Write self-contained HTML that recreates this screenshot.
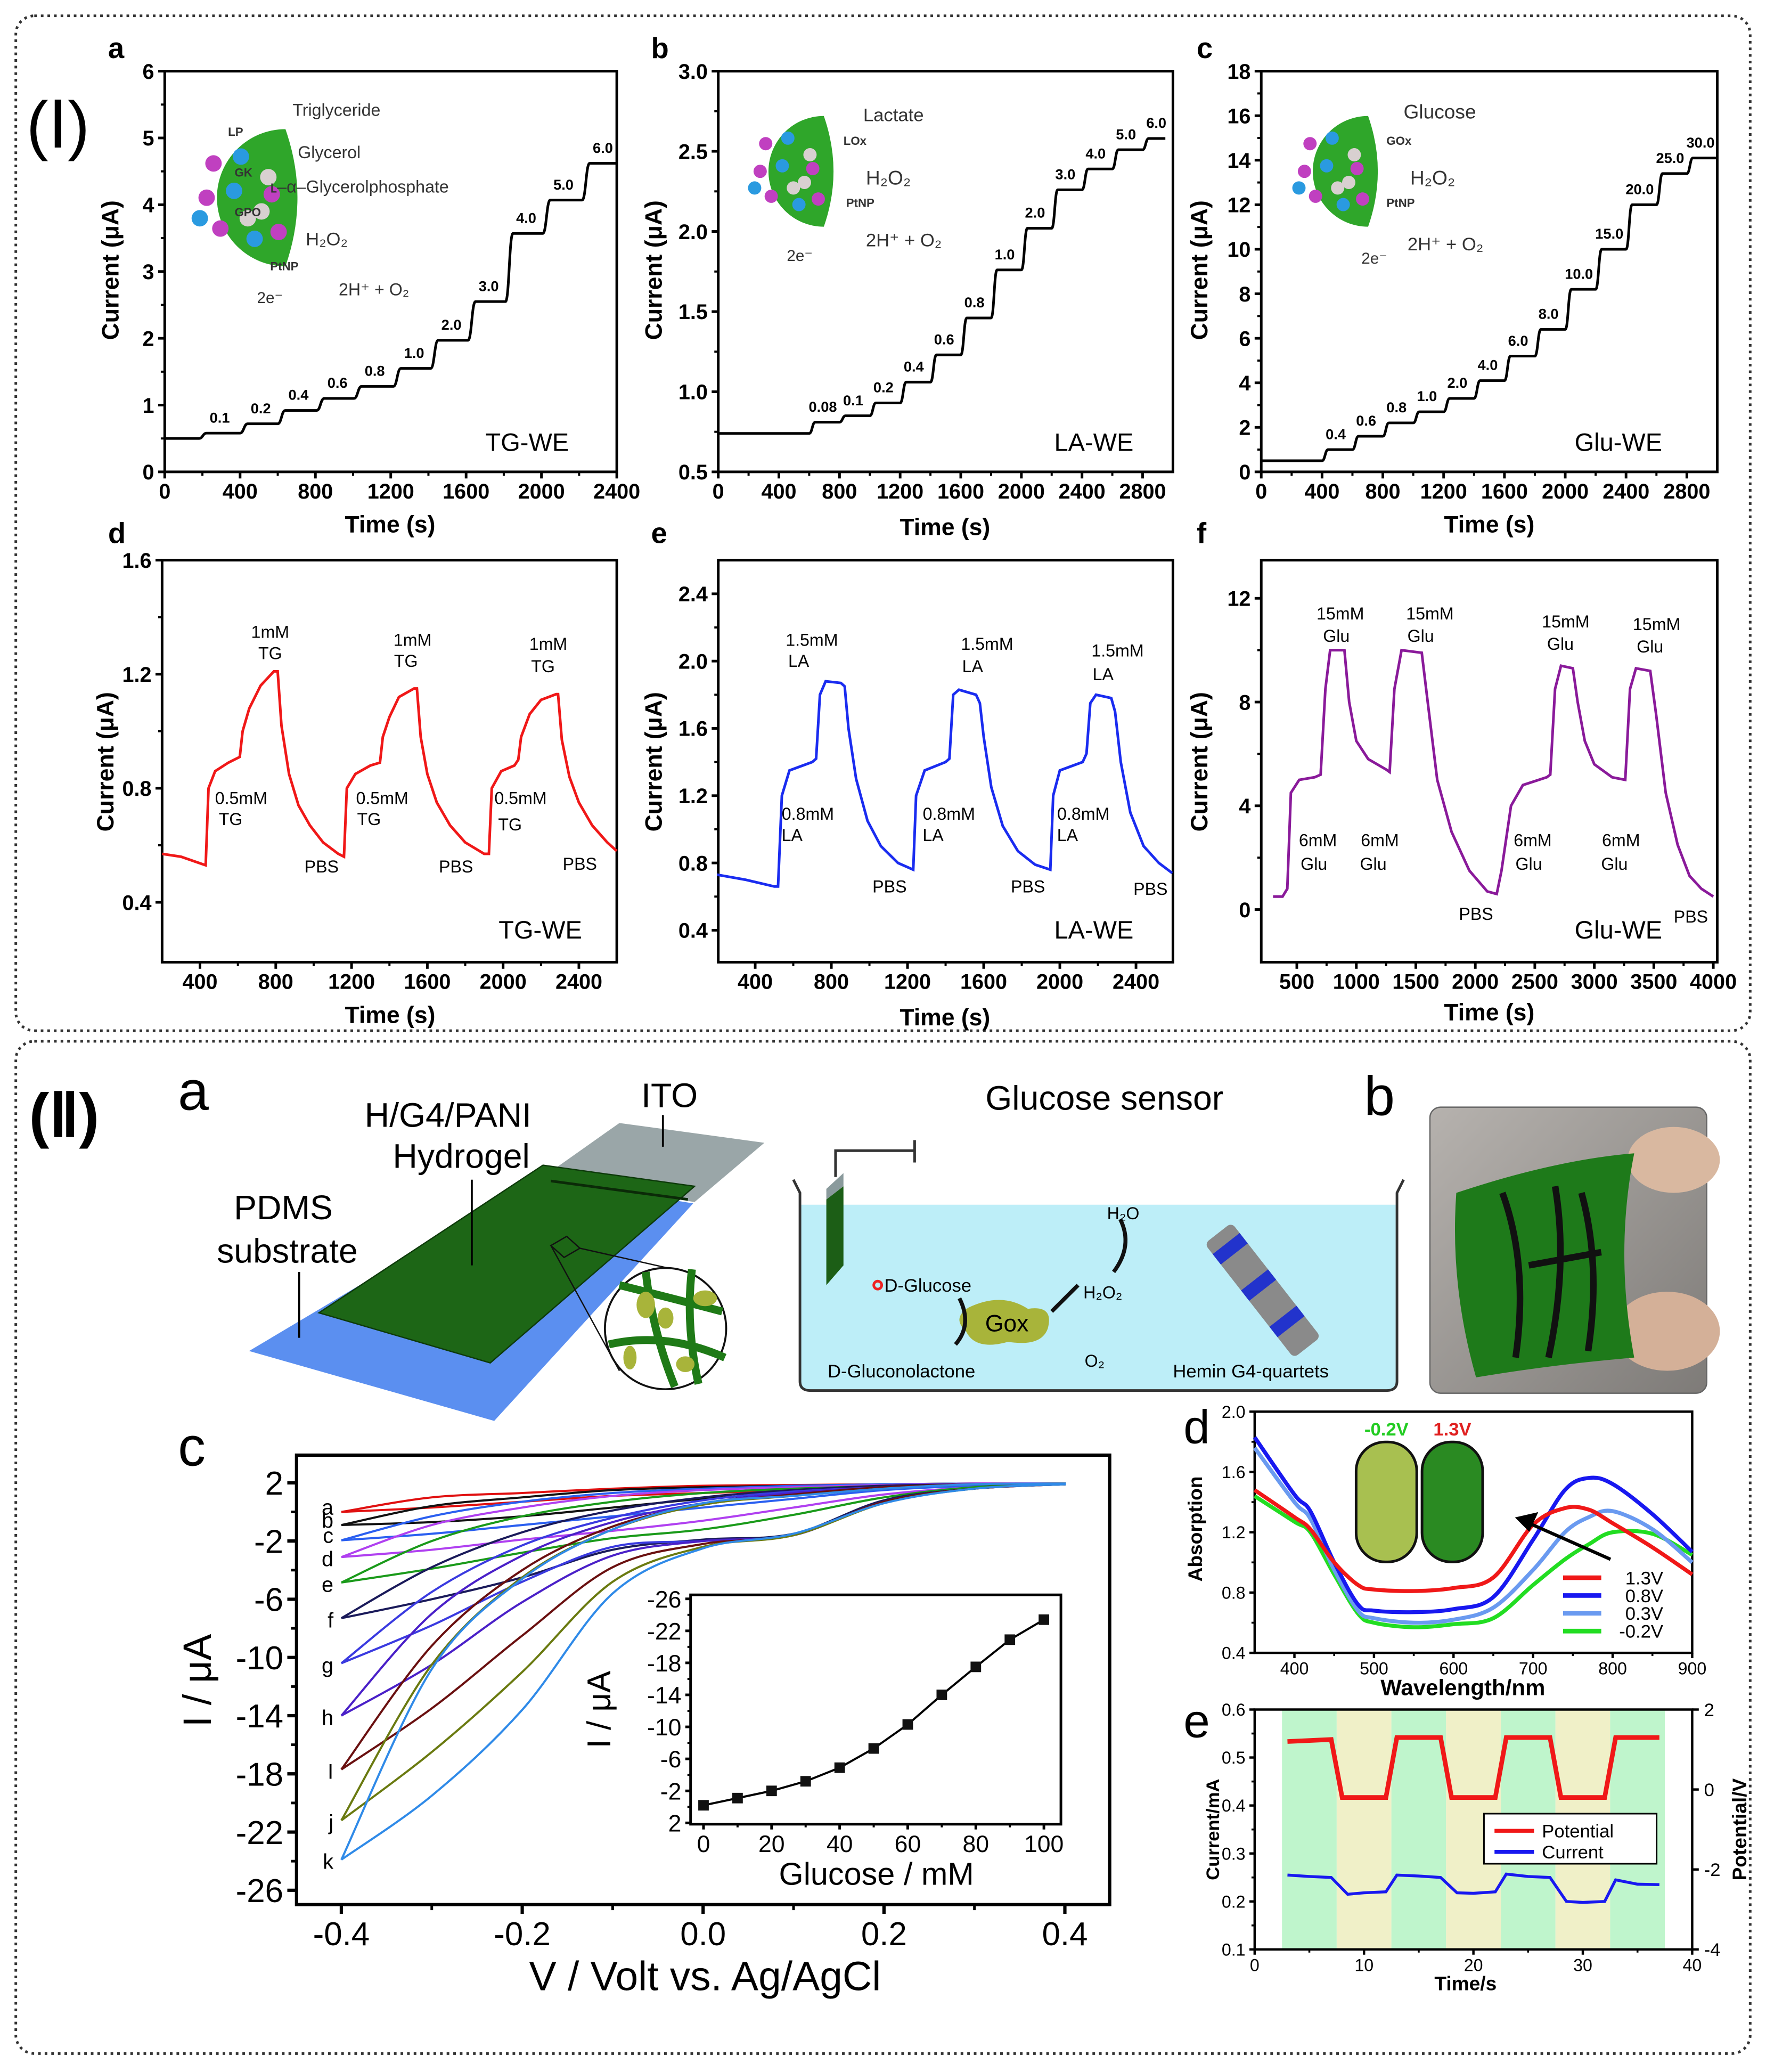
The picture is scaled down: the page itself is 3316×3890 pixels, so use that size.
<!DOCTYPE html>
<html><head><meta charset="utf-8"><style>
html,body{margin:0;padding:0;background:#fff;}
svg{display:block;}
text{font-family:"Liberation Sans",sans-serif;}
</style></head><body>
<svg id="fig" xmlns="http://www.w3.org/2000/svg" width="3316" height="3890" viewBox="0 0 1340 1572" preserveAspectRatio="none">
<rect x="0" y="0" width="1340" height="1572" fill="#fff"/>
<rect x="12" y="12" width="1316" height="770" rx="14" fill="none" stroke="#333" stroke-width="2" stroke-dasharray="2,3"/>
<rect x="12" y="790" width="1316" height="768" rx="14" fill="none" stroke="#333" stroke-width="2" stroke-dasharray="2,3"/>
<text x="20" y="112" font-size="50">(Ⅰ)</text>
<text x="22" y="862" font-size="46" font-weight="bold">(Ⅱ)</text>

<!-- Schematic II a -->
<g>
<text x="135" y="842" font-size="42">a</text>
<polygon points="189,1025 409,894 526,913 375,1078" fill="#5b8ff0"/>
<polygon points="470,852 580,867 527,912 412,893" fill="#9aa6a8"/>
<polygon points="242,996 412,884 527,900 372,1034" fill="#1d6616" stroke="#0d3a0a" stroke-width="1"/>
<line x1="418" y1="896" x2="522" y2="910" stroke="#0b2a08" stroke-width="2"/>
<polygon points="418,945 430,938 440,947 428,954" fill="none" stroke="#111" stroke-width="1"/>
<line x1="418" y1="945" x2="470" y2="1040" stroke="#111" stroke-width="1"/>
<line x1="440" y1="947" x2="520" y2="965" stroke="#111" stroke-width="1"/>
<circle cx="505" cy="1008" r="46" fill="#fff" stroke="#111" stroke-width="1.5"/>
<g stroke="#1f7a17" stroke-width="6" fill="none">
<path d="M470,975 Q510,985 548,995"/><path d="M462,1020 Q505,1010 550,1030"/><path d="M490,965 Q495,1010 512,1052"/><path d="M525,963 Q520,1005 530,1050"/>
</g>
<g fill="#a8b43a">
<ellipse cx="490" cy="990" rx="7" ry="10"/><ellipse cx="535" cy="985" rx="9" ry="6"/><ellipse cx="505" cy="1000" rx="6" ry="8"/><ellipse cx="478" cy="1030" rx="5" ry="9"/><ellipse cx="520" cy="1035" rx="7" ry="6"/>
</g>
<text x="508" y="840" font-size="26" text-anchor="middle">ITO</text>
<line x1="503" y1="870" x2="503" y2="846" stroke="#000" stroke-width="1.5"/>
<text x="340" y="855" font-size="26" text-anchor="middle">H/G4/PANI</text>
<text x="350" y="886" font-size="26" text-anchor="middle">Hydrogel</text>
<line x1="358" y1="960" x2="358" y2="895" stroke="#000" stroke-width="1.5"/>
<text x="215" y="925" font-size="26" text-anchor="middle">PDMS</text>
<text x="218" y="958" font-size="26" text-anchor="middle">substrate</text>
<line x1="227" y1="1015" x2="227" y2="965" stroke="#000" stroke-width="1.5"/>
</g>

<g>
<text x="838" y="842" font-size="26" text-anchor="middle">Glucose sensor</text>
<rect x="607" y="914" width="452" height="140" fill="#bdeef8"/>
<path d="M602,895 L607,905 L607,1048 Q607,1055 615,1055 L1052,1055 Q1060,1055 1060,1048 L1060,905 L1065,895" fill="none" stroke="#333" stroke-width="2"/>
<polygon points="627,910 640,900 640,960 627,975" fill="#1c5e16"/>
<polygon points="627,910 640,900 640,890 627,902" fill="#8a9a9c"/>
<path d="M634,893 L634,873 L694,873 M694,865 L694,882" stroke="#333" stroke-width="2" fill="none"/>
<circle cx="666" cy="975" r="3" fill="none" stroke="#e22" stroke-width="2"/>
<text x="671" y="980" font-size="14">D-Glucose</text>
<path d="M735,992 Q760,980 780,993 Q800,990 795,1008 Q790,1022 765,1018 Q740,1025 733,1010 Q722,1000 735,992Z" fill="#a8b43a"/>
<text x="764" y="1010" font-size="18" text-anchor="middle">Gox</text>
<path d="M728,985 Q738,1005 725,1020" stroke="#111" stroke-width="3" fill="none"/>
<path d="M798,995 Q808,985 818,975" stroke="#111" stroke-width="3" fill="none"/>
<path d="M845,965 Q860,945 850,925" stroke="#111" stroke-width="3" fill="none"/>
<text x="822" y="985" font-size="13">H₂O₂</text>
<text x="840" y="925" font-size="13">H₂O</text>
<text x="823" y="1037" font-size="13">O₂</text>
<text x="628" y="1045" font-size="14">D-Gluconolactone</text>
<text x="890" y="1045" font-size="14">Hemin G4-quartets</text>
<g transform="rotate(52 955 975)">
<rect x="905" y="962" width="110" height="26" fill="#8a8a8a" rx="4"/>
<rect x="915" y="962" width="10" height="26" fill="#2233cc"/><rect x="950" y="962" width="10" height="26" fill="#2233cc"/><rect x="985" y="962" width="10" height="26" fill="#2233cc"/>
</g>
</g>

<g>
<text x="1035" y="846" font-size="42">b</text>
<defs><linearGradient id="pg" x1="0" y1="0" x2="1" y2="1"><stop offset="0" stop-color="#b6b2ae"/><stop offset="1" stop-color="#7e7b78"/></linearGradient></defs>
<rect x="1085" y="840" width="210" height="217" rx="8" fill="url(#pg)" stroke="#666"/>
<ellipse cx="1270" cy="880" rx="35" ry="25" fill="#d9b8a0"/>
<ellipse cx="1265" cy="1010" rx="40" ry="30" fill="#d4b098"/>
<path d="M1105,905 Q1180,880 1240,875 Q1225,950 1240,1030 Q1180,1035 1120,1045 Q1100,975 1105,905Z" fill="#1e7a1a"/>
<path d="M1140,905 Q1160,960 1150,1030 M1180,900 Q1190,960 1175,1030 M1160,960 L1215,950 M1200,905 Q1215,960 1205,1025" stroke="#111" stroke-width="5" fill="none"/>
</g>
</svg>
<script>
const NS='http://www.w3.org/2000/svg';
const svg=document.getElementById('fig');
function mk(tag,attrs,parent){const e=document.createElementNS(NS,tag);for(const k in attrs)e.setAttribute(k,attrs[k]);(parent||svg).appendChild(e);return e;}
function txt(s,x,y,size,opts,parent){const t=mk('text',Object.assign({x:x,y:y,'font-size':size},opts||{}),parent);t.textContent=s;return t;}

/* ---------- DATA ---------- */
const aStepT=[182,400,600,807,1005,1214,1412,1610,1809,2007,2216];
const aStepV=[0.58,0.72,0.92,1.1,1.28,1.55,1.97,2.55,3.57,4.07,4.62];
const aStepLbl=['0.1','0.2','0.4','0.6','0.8','1.0','2.0','3.0','4.0','5.0','6.0'];
const aBase=0.5;
const bStepT=[600,800,1000,1200,1400,1600,1800,2000,2200,2400,2600,2800];
const bStepV=[0.81,0.85,0.93,1.06,1.23,1.46,1.76,2.02,2.26,2.39,2.51,2.58];
const bStepLbl=['0.08','0.1','0.2','0.4','0.6','0.8','1.0','2.0','3.0','4.0','5.0','6.0'];
const bBase=0.74;
const cStepT=[400,600,800,1000,1200,1400,1600,1800,2000,2200,2400,2600,2800];
const cStepV=[1.0,1.6,2.2,2.7,3.3,4.1,5.2,6.4,8.2,10.0,12.0,13.4,14.1];
const cStepLbl=['0.4','0.6','0.8','1.0','2.0','4.0','6.0','8.0','10.0','15.0','20.0','25.0','30.0'];
const cBase=0.5;
const dT=[200,300,430,445,480,550,610,625,660,720,790,810,830,870,920,980,1050,1130,1160,1175,1220,1300,1350,1365,1400,1450,1530,1545,1565,1600,1650,1720,1800,1900,1925,1940,1990,2060,2080,2095,2140,2200,2280,2290,2310,2350,2400,2470,2550,2600];
const dV=[.57,.56,.53,.80,.86,.89,.91,1.0,1.08,1.16,1.21,1.21,1.02,.85,.74,.67,.61,.57,.56,.80,.85,.88,.89,.98,1.05,1.12,1.15,1.15,.98,.85,.75,.67,.61,.57,.57,.80,.86,.88,.90,.98,1.06,1.11,1.13,1.13,.97,.84,.75,.67,.61,.58];
const eT=[200,350,500,520,540,580,700,720,740,770,850,870,890,930,990,1060,1150,1230,1245,1290,1400,1420,1440,1470,1560,1580,1600,1640,1700,1780,1870,1950,1965,2000,2120,2140,2160,2190,2270,2290,2320,2370,2440,2520,2590];
const eV=[.73,.70,.66,.66,1.2,1.35,1.40,1.42,1.8,1.88,1.87,1.85,1.6,1.3,1.05,.9,.8,.76,1.2,1.35,1.4,1.42,1.8,1.83,1.8,1.75,1.55,1.25,1.02,.87,.79,.76,1.2,1.35,1.4,1.45,1.75,1.8,1.78,1.7,1.4,1.1,.9,.8,.74];
const fT=[300,380,420,450,520,650,700,740,780,900,940,1000,1100,1250,1280,1320,1380,1550,1600,1680,1800,1950,2100,2180,2220,2300,2400,2600,2630,2670,2720,2820,2860,2920,3000,3150,3260,3300,3350,3470,3520,3600,3700,3800,3900,4000];
const fV=[.5,.5,.8,4.5,5.0,5.1,5.2,8.5,10.0,10.0,8,6.5,5.8,5.4,5.3,8.5,10.0,9.9,8,5,3,1.5,.7,.6,1.5,4.0,4.8,5.1,5.2,8.5,9.4,9.3,8,6.5,5.6,5.1,5.0,8.5,9.3,9.2,7.5,4.5,2.5,1.3,.8,.5];
const cvV=[-0.4,-0.3,-0.2,-0.1,0,0.1,0.2,0.3,0.4];
const cvNames=['a','b','c','d','e','f','g','h','I','j','k'];
const cvColors=['#e01010','#111111','#2a5ff0','#b040f0','#1a9a1a','#1a1a5a','#3a3ae0','#4a20c8','#6a1010','#6a7a10','#2f8ae8'];
const cvLow=[[0,0.3,0.7,1.1,1.3,1.5,1.7,1.85,1.9],[-0.9,-0.7,-0.3,0.3,0.9,1.3,1.6,1.8,1.9],[-1.95,-1.5,-0.9,-0.3,0.3,0.9,1.5,1.8,1.9],[-3.1,-2.6,-1.9,-1.3,-0.6,0.3,1.2,1.7,1.9],[-4.85,-3.9,-2.8,-1.8,-1.2,-0.2,1.0,1.7,1.9],[-7.3,-6.0,-4.5,-2.6,-1.9,-1.5,0.8,1.6,1.9],[-10.4,-7.8,-4.8,-2.4,-2.0,-1.6,0.7,1.6,1.9],[-14,-10.5,-6.2,-3.0,-2.0,-1.6,0.7,1.6,1.9],[-17.7,-13.5,-8.5,-3.8,-2.2,-1.6,0.7,1.6,1.9],[-21.2,-16.5,-11,-4.8,-2.4,-1.6,0.6,1.6,1.9],[-23.9,-19.5,-13.6,-5.6,-2.5,-1.5,0.6,1.6,1.9]];
const cvUp=[[0,1.0,1.3,1.6,1.8,1.85,1.9,1.95,1.95],[-0.9,0.4,1.0,1.5,1.7,1.8,1.9,1.95,1.95],[-1.95,-0.3,0.7,1.3,1.6,1.8,1.9,1.95,1.95],[-3.1,-0.9,0.3,1.1,1.5,1.7,1.85,1.95,1.95],[-4.85,-2.0,-0.3,0.7,1.3,1.6,1.8,1.9,1.95],[-7.3,-3.8,-1.4,0.1,1.0,1.5,1.8,1.9,1.95],[-10.4,-5.5,-2.3,-0.4,0.8,1.4,1.7,1.9,1.95],[-14,-7.0,-3.0,-0.7,0.6,1.3,1.7,1.9,1.95],[-17.7,-9.2,-4.0,-1.0,0.5,1.2,1.7,1.9,1.95],[-21.2,-10.5,-4.5,-1.2,0.5,1.1,1.6,1.9,1.95],[-23.9,-10.8,-4.6,-1.2,0.6,1.1,1.6,1.9,1.95]];
const glucose=[0,10,20,30,40,50,60,70,80,90,100];
const glucoseI=[-0.2,-1.1,-2.0,-3.2,-4.9,-7.3,-10.3,-14,-17.5,-20.9,-23.4];
const wl=[350,400,420,450,480,500,550,600,650,700,740,770,800,850,900];
const abs13=[1.48,1.3,1.22,1.0,0.85,0.82,0.81,0.83,0.9,1.25,1.36,1.35,1.26,1.1,0.92];
const abs08=[1.83,1.45,1.34,1.0,0.72,0.68,0.67,0.69,0.77,1.15,1.48,1.56,1.52,1.32,1.07];
const abs03=[1.76,1.4,1.29,0.95,0.68,0.63,0.6,0.62,0.7,0.95,1.2,1.3,1.34,1.22,1.0];
const absm02=[1.44,1.27,1.2,0.92,0.66,0.6,0.57,0.59,0.63,0.85,1.02,1.12,1.2,1.19,1.05];
const absLabels=['1.3V','0.8V','0.3V','-0.2V'];
const potT=[3,7,8,12,13,17,18,22,23,27,28,32,33,37];
const potV=[1.2,1.25,-0.2,-0.2,1.3,1.3,-0.2,-0.2,1.3,1.3,-0.2,-0.2,1.3,1.3];
const curT=[3,5,7,8.5,10,12,13,15,17,18.5,20,22,23,25,27,28.5,30,32,33,35,37];
const curI=[0.255,0.252,0.25,0.215,0.218,0.22,0.255,0.253,0.25,0.218,0.217,0.22,0.257,0.252,0.25,0.2,0.198,0.2,0.245,0.236,0.235];
const bandStarts=[2.5,7.5,12.5,17.5,22.5,27.5,32.5];

/* ---------- AXES ---------- */
function axes(o){
  const g=mk('g',{});
  
  
  const X=v=>o.x0+(v-o.xd[0])/(o.xd[1]-o.xd[0])*(o.x1-o.x0);
  const Y=v=>o.y1-(v-o.yd[0])/(o.yd[1]-o.yd[0])*(o.y1-o.y0);
  const sw=o.sw||2;
  const fr=mk('rect',{x:o.x0,y:o.y0,width:o.x1-o.x0,height:o.y1-o.y0,fill:'none',stroke:'#000','stroke-width':sw},g);
  
  
  const tl=o.tl||5;
  o.xt.forEach((v,i)=>{
    const t=mk('line',{x1:X(v),x2:X(v),y1:o.y1,y2:o.y1+tl,stroke:'#000','stroke-width':sw},g);
    
    
    if(i<o.xt.length-1){const m=(v+o.xt[i+1])/2;const mt=mk('line',{x1:X(m),x2:X(m),y1:o.y1,y2:o.y1+tl*0.6,stroke:'#000','stroke-width':sw*0.8},g);
    
    }
    const lb=txt(o.xl?o.xl[i]:String(v),X(v),o.y1+tl+o.fs*0.95,o.fs,{'text-anchor':'middle','font-weight':o.bold?'bold':'normal'},g);
    
    
  });
  o.yt.forEach((v,i)=>{
    const t=mk('line',{x1:o.x0,x2:o.x0-tl,y1:Y(v),y2:Y(v),stroke:'#000','stroke-width':sw},g);
    
    
    if(i<o.yt.length-1){const m=(v+o.yt[i+1])/2;const mt=mk('line',{x1:o.x0,x2:o.x0-tl*0.6,y1:Y(m),y2:Y(m),stroke:'#000','stroke-width':sw*0.8},g);
    
    }
    const lb=txt(o.yl?o.yl[i]:String(v),o.x0-tl-3,Y(v)+o.fs*0.36,o.fs,{'text-anchor':'end','font-weight':o.bold?'bold':'normal'},g);
    
    
  });
  return {X,Y,g};
}
function range(a,b,s){const r=[];for(let v=a;v<=b+1e-9;v+=s)r.push(Math.round(v*100)/100);return r;}
function smooth(pts){let d=`M${pts[0][0]},${pts[0][1]}`;for(let i=0;i<pts.length-1;i++){const p0=pts[Math.max(0,i-1)],p1=pts[i],p2=pts[i+1],p3=pts[Math.min(pts.length-1,i+2)];
 d+=` C${p1[0]+(p2[0]-p0[0])/6},${p1[1]+(p2[1]-p0[1])/6} ${p2[0]-(p3[0]-p1[0])/6},${p2[1]-(p3[1]-p1[1])/6} ${p2[0]},${p2[1]}`;}return d;}
function stepPath(A,base,t0,t1,T,V,rise){let d=`M${A.X(t0)},${A.Y(base)}`;let prev=base;T.forEach((t,i)=>{d+=` L${A.X(t)},${A.Y(prev)} C${A.X(t+rise*0.5)},${A.Y(prev)} ${A.X(t+rise*0.5)},${A.Y(V[i])} ${A.X(t+rise)},${A.Y(V[i])}`;prev=V[i];});d+=` L${A.X(t1)},${A.Y(prev)}`;return d;}
function poly(A,T,V){return T.map((t,i)=>(i?'L':'M')+A.X(t)+','+A.Y(V[i])).join(' ');}

function globe(cx,cy,r,name){
  const g=mk('g',{});
  
  
  mk('path',{d:`M${cx+r*0.55},${cy-r} A${r} ${r} 0 1 0 ${cx+r*0.55},${cy+r} Q${cx+r*0.9},${cy} ${cx+r*0.55},${cy-r}Z`,fill:'#2fa62a'},g);
  const cols=['#c040c0','#2a9ae0','#d8d0d0','#c040c0','#2a9ae0','#d8d0d0','#c040c0','#2a9ae0'];
  const off=[[-.5,-.5],[-.1,-.6],[.3,-.3],[-.6,0],[-.2,-.1],[.2,.2],[-.4,.45],[.1,.6],[.45,.5],[-.7,.3],[0,.3],[.35,-.05]];
  off.forEach((p,i)=>mk('circle',{cx:cx+p[0]*r,cy:cy+p[1]*r,r:r*0.12,fill:cols[i%cols.length]},g));
  return g;
}

/* ---------- PANEL I-a ---------- */
(function(){
 const A=axes({name:'panel-Ia-axes',x0:125,x1:468,y0:54,y1:358,xd:[0,2400],yd:[0,6],xt:range(0,2400,400),yt:range(0,6,1),fs:16,bold:true});
 const p=mk('path',{d:stepPath(A,aBase,0,2400,aStepT,aStepV,40),fill:'none',stroke:'#000','stroke-width':2});
 
 
 aStepT.forEach((t,i)=>{const l=txt(aStepLbl[i],A.X(t+110),A.Y(aStepV[i])-8,11,{'text-anchor':'middle','font-weight':'bold'});
 
 });
 globe(188,150,52,'tg-enzyme-globe');
 const items=[['Triglyceride',222,88,13],['LP',173,103,9],['Glycerol',226,120,13],['GK',178,134,9],['ʟ–α–Glycerolphosphate',205,146,13],['GPO',178,164,9],['H₂O₂',232,186,14],['PtNP',205,205,9],['2H⁺ + O₂',257,224,13],['2e⁻',195,230,12]];
 items.forEach(it=>{const t=txt(it[0],it[1],it[2],it[3],{'font-weight':it[3]<10?'bold':'normal',fill:'#333'});
 
 });
 const w=txt('TG-WE',400,342,19,{'text-anchor':'middle'});
 
 
})();
/* ---------- PANEL I-b ---------- */
(function(){
 const A=axes({name:'panel-Ib-axes',x0:545,x1:890,y0:54,y1:358,xd:[0,3000],yd:[0.5,3.0],xt:range(0,2800,400),yt:range(0.5,3.0,0.5),yl:['0.5','1.0','1.5','2.0','2.5','3.0'],fs:16,bold:true});
 const p=mk('path',{d:stepPath(A,bBase,0,2950,bStepT,bStepV,40),fill:'none',stroke:'#000','stroke-width':2});
 
 
 bStepT.forEach((t,i)=>{const l=txt(bStepLbl[i],A.X(t+90),A.Y(bStepV[i])-8,11,{'text-anchor':'middle','font-weight':'bold'});
 
 });
 globe(602,130,42,'la-enzyme-globe');
 [['Lactate',655,92,14],['LOx',640,110,9],['H₂O₂',657,140,15],['PtNP',642,157,9],['2H⁺ + O₂',657,187,14],['2e⁻',597,198,12]].forEach(it=>{const t=txt(it[0],it[1],it[2],it[3],{'font-weight':it[3]<10?'bold':'normal',fill:'#333'});
 
 });
 const w=txt('LA-WE',830,342,19,{'text-anchor':'middle'});
 
 
})();
/* ---------- PANEL I-c ---------- */
(function(){
 const A=axes({name:'panel-Ic-axes',x0:957,x1:1303,y0:54,y1:358,xd:[0,3000],yd:[0,18],xt:range(0,2800,400),yt:range(0,18,2),fs:16,bold:true});
 const p=mk('path',{d:stepPath(A,cBase,0,3000,cStepT,cStepV,40),fill:'none',stroke:'#000','stroke-width':2});
 
 
 cStepT.forEach((t,i)=>{const l=txt(cStepLbl[i],A.X(t+90),A.Y(cStepV[i])-8,11,{'text-anchor':'middle','font-weight':'bold'});
 
 });
 globe(1015,130,42,'glu-enzyme-globe');
 [['Glucose',1065,90,15],['GOx',1052,110,9],['H₂O₂',1070,140,15],['PtNP',1052,157,9],['2H⁺ + O₂',1068,190,14],['2e⁻',1033,200,12]].forEach(it=>{const t=txt(it[0],it[1],it[2],it[3],{'font-weight':it[3]<10?'bold':'normal',fill:'#333'});
 
 });
 const w=txt('Glu-WE',1228,342,19,{'text-anchor':'middle'});
 
 
})();
/* ---------- PANELS I-d,e,f ---------- */
(function(){
 const A=axes({name:'panel-Id-axes',x0:123,x1:468,y0:425,y1:730,xd:[200,2600],yd:[0.19,1.6],xt:range(400,2400,400),yt:[0.4,0.8,1.2,1.6],yl:['0.4','0.8','1.2','1.6'],fs:16,bold:true});
 const p=mk('path',{d:poly(A,dT,dV),fill:'none',stroke:'#f01818','stroke-width':2});
 
 
 [['1mM',205,484],['TG',205,500],['1mM',313,490],['TG',308,506],['1mM',416,493],['TG',412,510],['0.5mM',183,610],['TG',175,626],['0.5mM',290,610],['TG',280,626],['0.5mM',395,610],['TG',387,630],['PBS',244,662],['PBS',346,662],['PBS',440,660]].forEach(it=>{const t=txt(it[0],it[1],it[2],13,{'text-anchor':'middle'});
 
 });
 const w=txt('TG-WE',410,712,19,{'text-anchor':'middle'});
 
 
})();
(function(){
 const A=axes({name:'panel-Ie-axes',x0:545,x1:890,y0:425,y1:730,xd:[206,2594],yd:[0.21,2.6],xt:range(400,2400,400),yt:range(0.4,2.4,0.4),yl:['0.4','0.8','1.2','1.6','2.0','2.4'],fs:16,bold:true});
 const p=mk('path',{d:poly(A,eT,eV),fill:'none',stroke:'#1a2cf0','stroke-width':2});
 
 
 [['1.5mM',616,490],['LA',606,506],['1.5mM',749,493],['LA',738,510],['1.5mM',848,498],['LA',837,516],['0.8mM',613,622],['LA',601,638],['0.8mM',720,622],['LA',708,638],['0.8mM',822,622],['LA',810,638],['PBS',675,677],['PBS',780,677],['PBS',873,679]].forEach(it=>{const t=txt(it[0],it[1],it[2],13,{'text-anchor':'middle'});
 
 });
 const w=txt('LA-WE',830,712,19,{'text-anchor':'middle'});
 
 
})();
(function(){
 const A=axes({name:'panel-If-axes',x0:957,x1:1303,y0:425,y1:730,xd:[201,4033],yd:[-2.03,13.47],xt:range(500,4000,500),yt:[0,4,8,12],fs:16,bold:true});
 const p=mk('path',{d:poly(A,fT,fV),fill:'none',stroke:'#8a1a9a','stroke-width':2});
 
 
 [['15mM',1017,470],['Glu',1014,487],['15mM',1085,470],['Glu',1078,487],['15mM',1188,476],['Glu',1184,493],['15mM',1257,478],['Glu',1252,495],['6mM',1000,642],['Glu',997,660],['6mM',1047,642],['Glu',1042,660],['6mM',1163,642],['Glu',1160,660],['6mM',1230,642],['Glu',1225,660],['PBS',1120,698],['PBS',1283,700]].forEach(it=>{const t=txt(it[0],it[1],it[2],13,{'text-anchor':'middle'});
 
 });
 const w=txt('Glu-WE',1228,712,19,{'text-anchor':'middle'});
 
 
})();
[['a',82,44],['b',494,44],['c',908,44],['d',82,412],['e',494,412],['f',908,412]].forEach(l=>{const t=txt(l[0],l[1],l[2],22,{'font-weight':'bold'});
 
 });
[[296,404],[717,406],[1130,404],[296,776],[717,778],[1130,774]].forEach(p=>{const t=txt('Time (s)',p[0],p[1],18,{'text-anchor':'middle','font-weight':'bold'});
 
 });
[[90,205],[502,205],[916,205],[86,578],[502,578],[916,578]].forEach(p=>{const t=txt('Current (μA)',0,0,18,{'text-anchor':'middle','font-weight':'bold',transform:`translate(${p[0]},${p[1]}) rotate(-90)`});
 
 });

/* ---------- PANEL II-c ---------- */
(function(){
 const lt=txt('c',135,1112,42,{});
 
 
 const A=axes({name:'panel-IIc-axes',x0:225,x1:842,y0:1104,y1:1445,xd:[-0.4-34/549*0.8,0.4+34/549*0.8],yd:[2-320/11.04,2+21/11.04],xt:[-0.4,-0.2,0,0.2,0.4],xl:['-0.4','-0.2','0.0','0.2','0.4'],yt:range(-26,2,4),fs:25,sw:2.5,tl:7});
 cvNames.forEach((n,k)=>{
   const lo=cvV.map((v,i)=>[A.X(v),A.Y(cvLow[k][i])]);
   const up=cvV.map((v,i)=>[A.X(v),A.Y(cvUp[k][i])]);
   const p=mk('path',{d:smooth(lo)+' '+smooth(up.slice().reverse()).replace('M','L'),fill:'none',stroke:cvColors[k],'stroke-width':1.6});
   
   
   const t=txt(n,A.X(-0.4)-6,A.Y(cvLow[k][0])+ (k<3?2:7),16,{'text-anchor':'end'});
   
   
 });
 const xt=txt('V / Volt vs. Ag/AgCl',535,1510,31,{'text-anchor':'middle'});
 
 
 const yt=txt('I / μA',0,0,30,{'text-anchor':'middle',transform:'translate(160,1275) rotate(-90)'});
 
 
 const bg=mk('rect',{x:524,y:1210,width:281,height:174,fill:'#fff'});
 
 
 const B=axes({name:'inset-axes',x0:524,x1:805,y0:1210,y1:1384,xd:[-3.8,105],yd:[2+1/6.1,-26.5],xt:range(0,100,20),yt:[2,-2,-6,-10,-14,-18,-22,-26],fs:18,sw:2,tl:4});
 const ip=mk('path',{d:glucose.map((g,i)=>(i?'L':'M')+B.X(g)+','+B.Y(glucoseI[i])).join(' '),fill:'none',stroke:'#000','stroke-width':1.6});
 
 
 glucose.forEach((g,i)=>{const c=mk('rect',{x:B.X(g)-4,y:B.Y(glucoseI[i])-4,width:8,height:8,fill:'#111'});
 
 });
 const gt=txt('Glucose / mM',665,1430,24,{'text-anchor':'middle'});
 
 
 const it=txt('I / μA',0,0,25,{'text-anchor':'middle',transform:'translate(463,1297) rotate(-90)'});
 
 
})();

/* ---------- PANEL II-d ---------- */
(function(){
 const lt=txt('d',898,1095,36,{});
 
 
 const A=axes({name:'panel-IId-axes',x0:952,x1:1284,y0:1071,y1:1254,xd:[350,900],yd:[0.4,2.0],xt:range(400,900,100),yt:[0.4,0.8,1.2,1.6,2.0],yl:['0.4','0.8','1.2','1.6','2.0'],fs:13,sw:1.8,tl:4});
 const series=[abs13,abs08,abs03,absm02];const cols=['#f01818','#1818f0','#6a9af0','#22dd22'];
 [3,2,1,0].forEach(k=>{const p=mk('path',{d:smooth(wl.map((w,i)=>[A.X(w),A.Y(series[k][i])])),fill:'none',stroke:cols[k],'stroke-width':3});
 
 });
 absLabels.forEach((l,k)=>{const y=1197+k*13.5;
 const ln=mk('line',{x1:1186,x2:1215,y1:y,y2:y,stroke:cols[k],'stroke-width':3.5});
 
 
 const t=txt(l,1262,y+5,14,{'text-anchor':'end'});
 
 });
 const r1=mk('rect',{x:1029,y:1094,width:46,height:91,rx:22,fill:'#a8c050',stroke:'#111','stroke-width':2});
 
 
 const r2=mk('rect',{x:1079,y:1094,width:46,height:91,rx:22,fill:'#2a8a22',stroke:'#111','stroke-width':2});
 
 
 const t1=txt('-0.2V',1052,1089,14,{'text-anchor':'middle','font-weight':'bold',fill:'#22cc22'});
 
 
 const t2=txt('1.3V',1102,1089,14,{'text-anchor':'middle','font-weight':'bold',fill:'#e02020'});
 
 
 const ar=mk('path',{d:'M1222,1183 L1152,1152 M1152,1152 L1165,1149 L1160,1160 Z',stroke:'#000','stroke-width':2.5,fill:'#000'});
 
 
 const xt=txt('Wavelength/nm',1110,1286,17,{'text-anchor':'middle','font-weight':'bold'});
 
 
 const yt=txt('Absorption',0,0,15,{'text-anchor':'middle','font-weight':'bold',transform:'translate(912,1160) rotate(-90)'});
 
 
})();

/* ---------- PANEL II-e ---------- */
(function(){
 const lt=txt('e',898,1318,36,{});
 
 
 const X=v=>952+v/40*332;
 bandStarts.forEach((s,i)=>{const b=mk('rect',{x:X(s),y:1297,width:X(s+5)-X(s),height:182,fill:i%2?'#f0f0c8':'#bff5cc'});
 
 });
 const A=axes({name:'panel-IIe-axes',x0:952,x1:1284,y0:1297,y1:1479,xd:[0,40],yd:[0.1,0.6],xt:range(0,40,10),yt:range(0.1,0.6,0.1),yl:['0.1','0.2','0.3','0.4','0.5','0.6'],fs:13,sw:1.8,tl:4});
 const R=v=>1479-(v+4)/6*182;
 [-4,-2,0,2].forEach(v=>{const t=mk('line',{x1:1284,x2:1289,y1:R(v),y2:R(v),stroke:'#000','stroke-width':1.8});
 
 
 const l=txt(String(v),1293,R(v)+5,14,{});
 
 });
 const pp=mk('path',{d:potT.map((t,i)=>(i?'L':'M')+A.X(t)+','+R(potV[i])).join(' '),fill:'none',stroke:'#f01818','stroke-width':3.5});
 
 
 const cp=mk('path',{d:poly(A,curT,curI),fill:'none',stroke:'#1818f0','stroke-width':2.2});
 
 
 const lg=mk('rect',{x:1126,y:1376,width:131,height:38,fill:'#fff',stroke:'#000','stroke-width':1.2});
 
 
 [['Potential','#f01818',1389],['Current','#1818f0',1405]].forEach(e=>{const l=mk('line',{x1:1134,x2:1164,y1:e[2],y2:e[2],stroke:e[1],'stroke-width':3});
 
 
 const t=txt(e[0],1170,e[2]+5,14,{});
 
 });
 const xt=txt('Time/s',1112,1510,15,{'text-anchor':'middle','font-weight':'bold'});
 
 
 const yl=txt('Current/mA',0,0,14,{'text-anchor':'middle','font-weight':'bold',transform:'translate(925,1388) rotate(-90)'});
 
 
 const yr=txt('Potential/V',0,0,15,{'text-anchor':'middle','font-weight':'bold',transform:'translate(1325,1388) rotate(-90)'});
 
 
})();
</script>
</body></html>
